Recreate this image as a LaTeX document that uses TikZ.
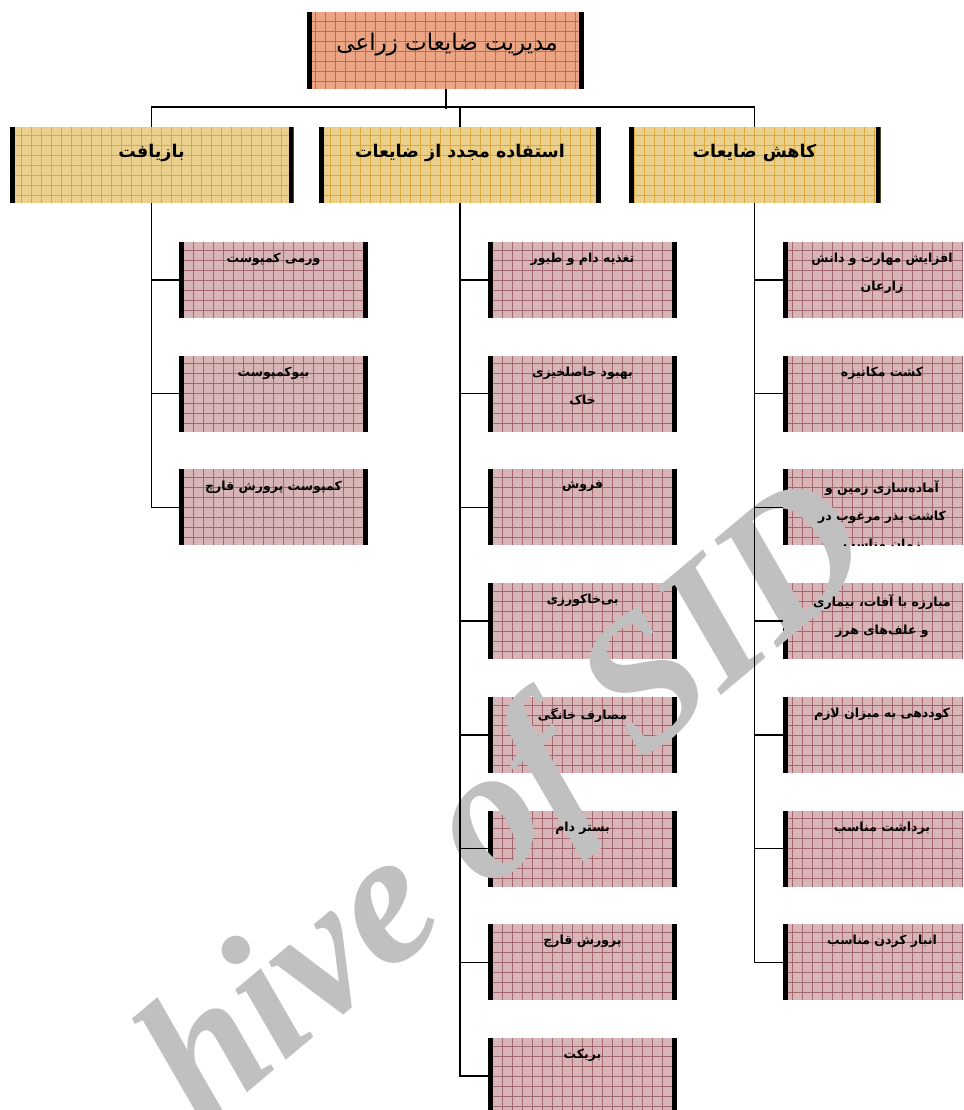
\documentclass[tikz,border=0pt]{standalone}
\usepackage{fontspec}
\newfontfamily\fa[Script=Arabic]{DejaVu Sans}
\newfontfamily\wmfont{Liberation Serif}
\TeXXeTstate=1
\definecolor{rootfill}{RGB}{236,166,134}
\definecolor{rootgrid}{RGB}{210,104,52}
\definecolor{midfill}{RGB}{234,208,140}
\definecolor{midgrid}{RGB}{218,170,60}
\definecolor{leaffill}{RGB}{215,180,182}
\definecolor{leafgrid}{RGB}{164,104,114}
\definecolor{wmgray}{RGB}{192,192,192}
\tikzset{
  gridbox/.style 2 args={fill=#1, inner sep=0pt, outer sep=0pt, path picture={
    \draw[#2, line width=0.55pt, step=10pt] (path picture bounding box.south west) grid (path picture bounding box.north east);
    \fill[black] (path picture bounding box.south west) rectangle ([xshift=5pt]path picture bounding box.north west);
    \fill[black] (path picture bounding box.south east) rectangle ([xshift=-5pt]path picture bounding box.north east);
  }},
  rootbox/.style={gridbox={rootfill}{rootgrid}, minimum width=277pt, minimum height=77pt},
  topbox/.style={gridbox={midfill}{midgrid}, minimum height=76pt},
  leafbox/.style={gridbox={leaffill}{leafgrid}, minimum width=189pt, minimum height=76pt},
  rleafbox/.style={leafbox, minimum width=198pt},
  roottext/.style={font=\fa\fontsize{23}{27}\selectfont, inner sep=0pt},
  toptext/.style={font=\fa\bfseries\fontsize{17.5}{21}\selectfont, inner sep=0pt},
  leaftext/.style={font=\fa\bfseries\fontsize{12.5}{28}\selectfont, align=center, anchor=north, inner sep=0pt},
  conn/.style={line width=1.4pt, black},
  wm/.style={font=\wmfont\bfseries\itshape\fontsize{188}{188}\selectfont, text=wmgray, inner sep=0pt}
}
\begin{document}
\begin{tikzpicture}[x=1pt,y=-1pt]
\useasboundingbox (0,0) rectangle (963,1110);
\clip (0,0) rectangle (963,1110);
% ---------- boxes ----------
\node[rootbox] (root) at (445.5,51) {};
\node[topbox, minimum width=284pt] (rec) at (151.5,165) {};
\node[topbox, minimum width=282pt] (reu) at (460,165) {};
\node[topbox, minimum width=252pt] (red) at (754.5,165) {};
\node[leafbox] (c1) at (273.5,280) {};
\node[leafbox] (c2) at (273.5,393.7) {};
\node[leafbox] (c3) at (273.5,507.4) {};
\node[leafbox] (u1) at (582.5,280) {};
\node[leafbox] (u2) at (582.5,393.7) {};
\node[leafbox] (u3) at (582.5,507.4) {};
\node[leafbox] (u4) at (582.5,621.1) {};
\node[leafbox] (u5) at (582.5,734.8) {};
\node[leafbox] (u6) at (582.5,848.5) {};
\node[leafbox] (u7) at (582.5,962.2) {};
\node[leafbox] (u8) at (582.5,1075.9) {};
\node[rleafbox] (r1) at (882,280) {};
\node[rleafbox] (r2) at (882,393.7) {};
\node[rleafbox] (r3) at (882,507.4) {};
\node[rleafbox] (r4) at (882,621.1) {};
\node[rleafbox] (r5) at (882,734.8) {};
\node[rleafbox] (r6) at (882,848.5) {};
\node[rleafbox] (r7) at (882,962.2) {};
% ---------- watermark ----------
\node[wm, rotate=40, anchor=base east] (wm) at (883,560) {hive of SID};
% ---------- connectors ----------
\coordinate (bus) at (0,107);
\draw[conn] (rec.north) -- (rec.north |- bus) -- (red.north |- bus) -- (red.north);
\draw[conn] (reu.north) -- (reu.north |- bus);
\draw[conn, line width=2pt] (root.south) -- ([yshift=-2pt]root.south |- bus);
\draw[conn] (rec.south) |- (c3.west);
\foreach \n in {c1,c2} \draw[conn] (rec.south |- \n.west) -- (\n.west);
\draw[conn] (reu.south) |- (u8.west);
\foreach \n in {u1,u2,u3,u4,u5,u6,u7} \draw[conn] (reu.south |- \n.west) -- (\n.west);
\draw[conn] (red.south) |- (r7.west);
\foreach \n in {r1,r2,r3,r4,r5,r6} \draw[conn] (red.south |- \n.west) -- (\n.west);
% ---------- texts ----------
\node[roottext] (roottx) at (447,45) {\beginR مدیریت ضایعات زراعی\endR};
\node[toptext] (rectx) at (151.5,153) {\beginR بازیافت\endR};
\node[toptext] (reutx) at (460,153) {\beginR استفاده مجدد از ضایعات\endR};
\node[toptext] (redtx) at (754.5,153) {\beginR کاهش ضایعات\endR};
\node[leaftext] (c1t) at ([yshift=-11pt]c1.north) {\beginR ورمی کمپوست\endR};
\node[leaftext] (c2t) at ([yshift=-11pt]c2.north) {\beginR بیوکمپوست\endR};
\node[leaftext] (c3t) at ([yshift=-11pt]c3.north) {\beginR کمپوست پرورش قارچ\endR};
\node[leaftext] (u1t) at ([yshift=-11pt]u1.north) {\beginR تغذیه دام و طیور\endR};
\node[leaftext] (u2t) at ([yshift=-11pt]u2.north) {\beginR بهبود حاصلخیزی\endR\\\beginR خاک\endR};
\node[leaftext] (u3t) at ([yshift=-11pt]u3.north) {\beginR فروش\endR};
\node[leaftext] (u4t) at ([yshift=-11pt]u4.north) {\beginR بی‌خاکورزی\endR};
\node[leaftext] (u5t) at ([yshift=-11pt]u5.north) {\beginR مصارف خانگی\endR};
\node[leaftext] (u6t) at ([yshift=-11pt]u6.north) {\beginR بستر دام\endR};
\node[leaftext] (u7t) at ([yshift=-11pt]u7.north) {\beginR پرورش قارچ\endR};
\node[leaftext] (u8t) at ([yshift=-11pt]u8.north) {\beginR بریکت\endR};
\node[leaftext] (r1t) at ([yshift=-11pt]r1.north) {\beginR افزایش مهارت و دانش\endR\\\beginR زارعان\endR};
\node[leaftext] (r2t) at ([yshift=-11pt]r2.north) {\beginR کشت مکانیزه\endR};
\begin{scope}
\clip (r3.south west) rectangle (r3.north east);
\node[leaftext] (r3t) at ([yshift=-11pt]r3.north) {\beginR آماده‌سازی زمین و\endR\\\beginR کاشت بذر مرغوب در\endR\\\beginR زمان مناسب\endR};
\end{scope}
\node[leaftext] (r4t) at ([yshift=-11pt]r4.north) {\beginR مبارزه با آفات، بیماری\endR\\\beginR و علف‌های هرز\endR};
\node[leaftext] (r5t) at ([yshift=-11pt]r5.north) {\beginR کوددهی به میزان لازم\endR};
\node[leaftext] (r6t) at ([yshift=-11pt]r6.north) {\beginR برداشت مناسب\endR};
\node[leaftext] (r7t) at ([yshift=-11pt]r7.north) {\beginR انبار کردن مناسب\endR};
\end{tikzpicture}
\end{document}
